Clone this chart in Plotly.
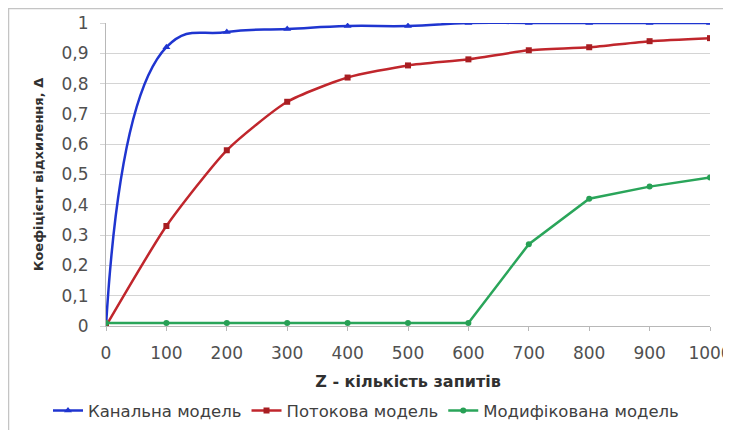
import plotly.graph_objects as go

z_values = [0, 100, 200, 300, 400, 500, 600, 700, 800, 900, 1000]
kanalna = [0, 0.92, 0.97, 0.98, 0.99, 0.99, 1.0, 1.0, 1.0, 1.0, 1.0]
potokova = [0, 0.33, 0.58, 0.74, 0.82, 0.86, 0.88, 0.91, 0.92, 0.94, 0.95]
modyfikovana = [0.01, 0.01, 0.01, 0.01, 0.01, 0.01, 0.01, 0.27, 0.42, 0.46, 0.49]

names = ["Канальна модель", "Потокова модель", "Модифікована модель"]
x_ticks = list(range(0, 1001, 100))
y_ticks = [i / 10 for i in range(0, 11)]

fig = go.Figure()
fig.add_trace(go.Scatter(
    x=z_values, y=kanalna, name=names[0], mode="lines+markers",
    line=dict(color="#1f35d0", width=2.5, shape="spline", smoothing=1.3),
    marker=dict(symbol="triangle-up", size=7, color="#1f35d0"),
))
fig.add_trace(go.Scatter(
    x=z_values, y=potokova, name=names[1], mode="lines+markers",
    line=dict(color="#c0262c", width=2.5, shape="spline", smoothing=0.6),
    marker=dict(symbol="square", size=6, color="#a81e22"),
))
fig.add_trace(go.Scatter(
    x=z_values, y=modyfikovana, name=names[2], mode="lines+markers",
    line=dict(color="#2aa55a", width=2.5),
    marker=dict(symbol="circle", size=6, color="#27a055"),
))

# page body adds an 8px offset; margins compensate so the plot area lands at 106..710 x 23..326
L, R, T, B = 98, 29, 15, 112
pw = 731 - L - R
ph = 430 - T - B
fig.update_layout(
    width=731, height=430,
    margin=dict(l=L, r=R, t=T, b=B, autoexpand=False),
    paper_bgcolor="white", plot_bgcolor="white",
    separators=", ",
    font=dict(family="DejaVu Sans, Arial, sans-serif", size=15, color="#404040"),
    showlegend=True,
    legend=dict(orientation="h", x=(40 - L) / pw, xanchor="left", y=-0.28, yanchor="middle",
                font=dict(size=16.5, color="#404040"), itemwidth=30,
                tracegroupgap=0),
    xaxis=dict(
        range=[0, 1000], tickvals=x_ticks, showgrid=False, automargin=False,
        showline=True, linecolor="#b8b8b8", linewidth=1,
        ticks="outside", ticklen=4, tickcolor="#b8b8b8", ticklabelstandoff=8,
        tickfont=dict(size=17, color="#505050"),
        title=dict(text="<b>Z - кількість запитів</b>", font=dict(size=16, color="#303030"), standoff=13),
        zeroline=False,
    ),
    yaxis=dict(
        range=[0, 1.0], tickvals=y_ticks, showgrid=True, gridcolor="#d4d4d4", gridwidth=1,
        automargin=False,
        showline=True, linecolor="#b8b8b8", linewidth=1,
        ticks="outside", ticklen=5, tickcolor="#d4d4d4", ticklabelstandoff=8,
        tickfont=dict(size=17, color="#505050"),
        title=dict(text="<b>Коефіцієнт відхилення, Δ</b>", font=dict(size=13, color="#303030"), standoff=15),
        zeroline=False,
    ),
)

fig.add_shape(type="rect", xref="paper", yref="paper",
              x0=(0.5 - L) / pw, x1=(719 - L) / pw,
              y0=-0.45, y1=(ph + T - 0.5) / ph,
              line=dict(color="#c4c4c4", width=1.5), layer="below")

fig.write_html("out.html")
